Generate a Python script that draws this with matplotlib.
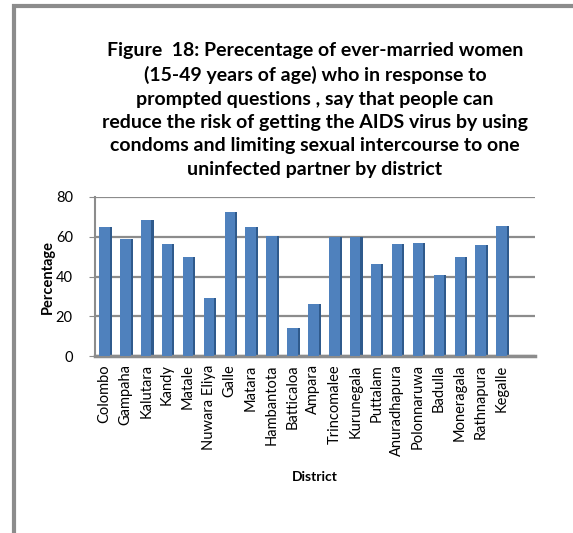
import numpy as np
import matplotlib.pyplot as plt
from matplotlib.patches import Rectangle

districts = ["Colombo", "Gampaha", "Kalutara", "Kandy", "Matale", "Nuwara Eliya",
             "Galle", "Matara", "Hambantota", "Batticaloa", "Ampara", "Trincomalee",
             "Kurunegala", "Puttalam", "Anuradhapura", "Polonnaruwa", "Badulla",
             "Moneragala", "Rathnapura", "Kegalle"]
percentage = [65.0, 59.0, 68.5, 56.5, 50.0, 29.0, 72.5, 65.0, 60.5, 14.0, 26.0,
              60.0, 60.0, 46.5, 56.5, 57.0, 41.0, 50.0, 56.0, 65.5]
yticks = [0, 20, 40, 60, 80]

title = ("Figure  18: Perecentage of ever-married women\n"
         "(15-49 years of age) who in response to\n"
         "prompted questions , say that people can\n"
         "reduce the risk of getting the AIDS virus by using\n"
         "condoms and limiting sexual intercourse to one\n"
         "uninfected partner by district")

plt.rcParams['font.family'] = ['Lato', 'DejaVu Sans']

fig = plt.figure(figsize=(5.73, 5.33), dpi=100)
ax = fig.add_axes([95/573, 1-356/533, 440/573, 159/533])

x = np.arange(len(districts))
# bar face + darker side to fake the 3D look
ax.bar(x + 0.28, percentage, width=0.14, color='#2f5a8c', zorder=2)
ax.bar(x, percentage, width=0.5, color='#4f81bd', zorder=3)

ax.set_xlim(-0.45, 20.6)
ax.set_ylim(0, 80)
ax.set_yticks(yticks)
ax.set_yticklabels([str(t) for t in yticks], fontsize=10.5)
ax.yaxis.grid(True, color='#8c8c8c', lw=1.6, zorder=0)
ax.set_axisbelow(True)
ax.set_xticks(x)
ax.set_xticklabels(districts, rotation=90, fontsize=10.5)
ax.tick_params(axis='x', length=0, pad=6)
ax.tick_params(axis='y', length=4, color='#8c8c8c', pad=12)
for s in ['top', 'right']:
    ax.spines[s].set_visible(False)
ax.spines['left'].set_color('#8c8c8c')
ax.spines['left'].set_linewidth(1.5)
ax.spines['bottom'].set_color('#8c8c8c')
ax.spines['bottom'].set_linewidth(2.5)

ax.set_ylabel('Percentage', fontsize=10.5, fontweight='bold', labelpad=1)
fig.text(315/573, 1-477/533, 'District', ha='center', va='center',
         fontsize=10, fontweight='bold')
fig.text(315/573, 1-110/533, title, ha='center', va='center',
         fontsize=14, fontweight='bold', linespacing=1.45)

# gray frame of the chart (right/bottom run off the picture)
frame = Rectangle((14/573, -0.1), 1.2, 1.1 - 6/533, transform=fig.transFigure,
                  fill=False, edgecolor='#8c8c8c', lw=3, clip_on=False)
fig.patches.append(frame)

fig.savefig('out.png', dpi=100)
